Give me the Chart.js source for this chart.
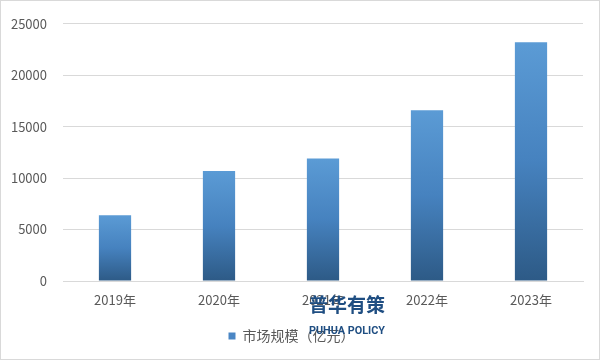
<!DOCTYPE html>
<html>
<head>
<meta charset="utf-8">
<script src="https://cdn.jsdelivr.net/npm/chart.js@4.4.0/dist/chart.umd.min.js"></script>
<style>
  html, body { margin: 0; padding: 0; background: #ffffff; }
  #wrap { position: absolute; left: 0; top: 0; width: 601px; height: 361px; }
</style>
</head>
<body>
<div id="wrap"><canvas id="c" width="601" height="361"></canvas></div>
<script>
const categories = ['2019年', '2020年', '2021年', '2022年', '2023年'];
const seriesName = '市场规模（亿元）';
const marketSize = [6400, 10700, 11900, 16600, 23200];
const yTicks = [0, 5000, 10000, 15000, 20000, 25000];
const watermarkCN = '普华有策';
const watermarkEN = 'PUHUA POLICY';

const FONT = "'Noto Sans CJK SC', 'Noto Sans', sans-serif";
const TOP_COLOR = '#5b9bd5';
const BOTTOM_COLOR = '#2d5a86';

function barGradient(ctx) {
  const chart = ctx.chart;
  const area = chart.chartArea;
  if (!area || ctx.dataIndex === undefined) return TOP_COLOR;
  const y = chart.scales.y;
  const v = ctx.dataset.data[ctx.dataIndex];
  const top = y.getPixelForValue(v);
  const bottom = y.getPixelForValue(0);
  const g = chart.ctx.createLinearGradient(0, top, 0, bottom);
  g.addColorStop(0, TOP_COLOR);
  g.addColorStop(0.5, '#4682bf');
  g.addColorStop(1, BOTTOM_COLOR);
  return g;
}

const frame = {
  id: 'frame',
  beforeDraw(chart) {
    const c = chart.ctx;
    c.save();
    c.fillStyle = '#ffffff';
    c.fillRect(0, 0, chart.width, chart.height);
    c.strokeStyle = '#d9d9d9';
    c.lineWidth = 1;
    c.strokeRect(0.5, 0.5, 599, 359);
    c.restore();
  },
  afterDraw(chart) {
    const c = chart.ctx;
    c.save();
    c.fillStyle = '#1f4e82';
    c.textBaseline = 'middle';
    c.textAlign = 'left';
    c.font = "bold 19px 'Noto Sans CJK SC', sans-serif";
    let w = c.measureText(watermarkCN).width;
    c.save();
    c.translate(309, 305);
    c.scale(76 / w, 1);
    c.fillText(watermarkCN, 0, 0);
    c.restore();
    c.font = "bold 11px 'Roboto', 'DejaVu Sans', sans-serif";
    w = c.measureText(watermarkEN).width;
    c.save();
    c.translate(309, 331);
    c.scale(76 / w, 1);
    c.fillText(watermarkEN, 0, 0);
    c.restore();
    c.restore();
  }
};

new Chart(document.getElementById('c'), {
  type: 'bar',
  data: {
    labels: categories,
    datasets: [{
      label: seriesName,
      data: marketSize,
      backgroundColor: barGradient,
      borderWidth: 0,
      categoryPercentage: 1,
      barPercentage: 0.31
    }]
  },
  options: {
    responsive: false,
    animation: false,
    devicePixelRatio: 1,
    layout: { padding: { left: 0, right: 18, top: 10, bottom: 8 } },
    plugins: {
      tooltip: { enabled: false },
      legend: {
        position: 'bottom',
        labels: {
          font: { family: FONT, size: 14 },
          color: '#595959',
          boxWidth: 7,
          boxHeight: 7,
          padding: 10,
          generateLabels(chart) {
            return [{
              text: seriesName,
              fillStyle: '#4a86c4',
              strokeStyle: '#4a86c4',
              lineWidth: 0,
              fontColor: '#595959',
              datasetIndex: 0,
              hidden: false
            }];
          }
        }
      }
    },
    scales: {
      x: {
        grid: { display: false, drawTicks: false },
        border: { display: true, color: '#d9d9d9', width: 1 },
        ticks: { font: { family: FONT, size: 13 }, color: '#595959', padding: 11, maxRotation: 0 },
        afterFit(s) { s.height = 38; }
      },
      y: {
        min: 0,
        max: 25000,
        afterBuildTicks(s) { s.ticks = yTicks.map(v => ({ value: v })); },
        grid: { color: '#d9d9d9', drawTicks: false, lineWidth: 1 },
        border: { display: false },
        ticks: { font: { family: FONT, size: 13 }, color: '#595959', padding: 16, callback: v => String(v) },
        afterFit(s) { s.width = 63; }
      }
    }
  },
  plugins: [frame]
});
</script>
</body>
</html>
